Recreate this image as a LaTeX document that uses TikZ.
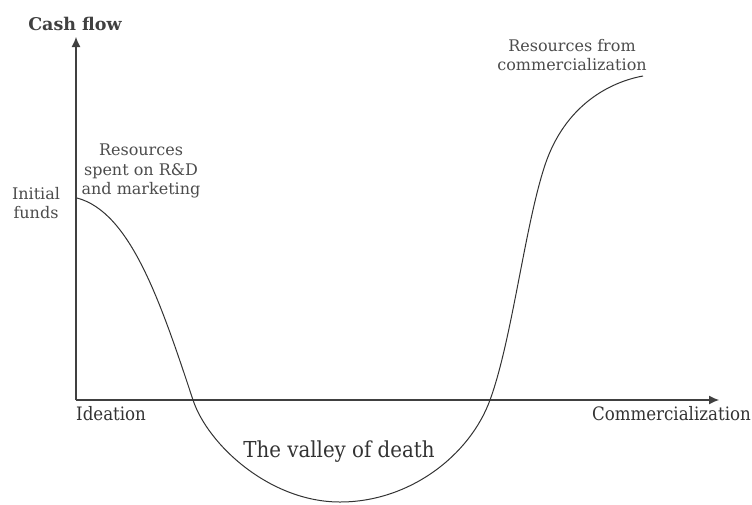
\documentclass[tikz,border=0pt]{standalone}
\usepackage{fontspec}
\usetikzlibrary{arrows.meta}
\setmainfont{DejaVu Serif}
\newfontfamily\condfont{DejaVu Serif Condensed}
\begin{document}
\begin{tikzpicture}[x=1pt,y=-1pt,
  axis/.style={line width=1.1pt,draw=black!75,-{Latex[length=10pt,width=9pt]}},
  curve/.style={line width=1pt,draw=black!80},
  toplabel/.style={font=\fontsize{16}{19.5}\selectfont,text=black!70,align=center,inner sep=0pt},
  botlabel/.style={font=\condfont\fontsize{18.5}{20}\selectfont,text=black!80,inner sep=0pt},
  axlabel/.style={font=\bfseries\fontsize{17.5}{20}\selectfont,text=black!75,inner sep=0pt}]
\useasboundingbox (0,0) rectangle (752,504);
\coordinate (origin) at (76,400);
\coordinate (ytip) at (76,37);
\coordinate (xtip) at (719,400);
\coordinate (c0) at (77,198);
\coordinate (c1) at (193,400);
\coordinate (c2) at (340,502);
\coordinate (c3) at (490,400);
\coordinate (c4) at (545,165);
\coordinate (c5) at (643,76);
\draw[axis] (origin) -- (ytip);
\draw[axis] (origin) -- (xtip);
\draw[curve] (c0) .. controls (130,212) and (160,300) .. (c1)
  .. controls (208,445) and (270,502) .. (c2)
  .. controls (410,502) and (470,455) .. (c3)
  .. controls (512,340) and (525,225) .. (c4)
  .. controls (565,105) and (610,82) .. (c5);
\node[axlabel] (cash) at (75,24) {Cash flow};
\node[toplabel] (init) at (36,203) {Initial\\funds};
\node[toplabel] (spent) at (141,171) {Resources\\spent on R\&D\\and marketing};
\node[toplabel] (fromc) at (572,55) {Resources from\\commercialization};
\node[botlabel,anchor=west] (idea) at (76,414) {Ideation};
\node[botlabel,anchor=east] (comm) at (751,414) {Commercialization};
\node[botlabel,font=\condfont\fontsize{22}{24}\selectfont] (valley) at (339,452) {The valley of death};
\end{tikzpicture}
\end{document}
